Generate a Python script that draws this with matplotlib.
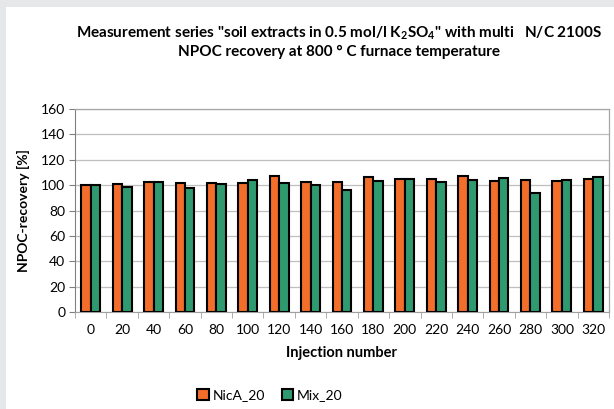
import numpy as np
import matplotlib
matplotlib.use('Agg')
import matplotlib.pyplot as plt
from matplotlib.patches import Rectangle

plt.rcParams['font.family'] = ['Lato', 'DejaVu Sans']
plt.rcParams['mathtext.default'] = 'regular'

injections = ['0', '20', '40', '60', '80', '100', '120', '140', '160',
              '180', '200', '220', '240', '260', '280', '300', '320']
nica_20 = [100, 101, 102.3, 102, 102, 102, 107.3, 102.6, 102.5,
           106.3, 105.2, 104.7, 107.3, 102.9, 104.4, 103.4, 105]
mix_20 = [100, 98.7, 102.3, 97.4, 101, 104.4, 102, 100, 96.3,
          103.4, 105.2, 102.3, 104.4, 106, 94, 104.4, 106.5]

orange = '#F26E2A'
green = '#2F9A6F'

fig = plt.figure(figsize=(6.14, 4.09), dpi=100)
fig.patch.set_facecolor('#e6e7e9')
# white panel, grey strip only on left and top
fig.patches.append(Rectangle((6 / 614, 0), 1, 1 - 7 / 409, transform=fig.transFigure,
                             facecolor='white', edgecolor='none', zorder=-10))

ax = fig.add_axes([75 / 614, 97 / 409, 534 / 614, 203 / 409])

x = np.arange(len(injections))
w = 0.3
ax.bar(x - w / 2, nica_20, w, color=orange, edgecolor='black', linewidth=1.5,
       label='NicA_20', zorder=3)
ax.bar(x + w / 2, mix_20, w, color=green, edgecolor='black', linewidth=1.5,
       label='Mix_20', zorder=3)

ax.set_xlim(-0.5, len(injections) - 0.5)
ax.set_ylim(0, 160)
ax.set_yticks(np.arange(0, 161, 20))
ax.set_xticks(x)
ax.set_xticklabels(injections)
ax.set_xticks(np.arange(-0.5, len(injections), 1), minor=True)
ax.tick_params(axis='x', which='major', length=0, labelsize=10, pad=9)
ax.tick_params(axis='x', which='minor', length=4, color='#a0a0a0')
ax.tick_params(axis='y', length=4, color='#808080', labelsize=10, pad=3)

ax.yaxis.grid(True, color='#bfbfbf', linewidth=0.9, zorder=0)
ax.set_axisbelow(True)
for s in ['top', 'right']:
    ax.spines[s].set_color('#a6a6a6')
    ax.spines[s].set_linewidth(0.9)
ax.spines['left'].set_color('#808080')
ax.spines['bottom'].set_color('#a0a0a0')

ax.set_ylabel('NPOC-recovery [%]', fontsize=10, fontweight='bold', labelpad=8)
ax.set_xlabel('Injection number', fontsize=10.5, fontweight='bold', labelpad=7)

fig.text(0.552, 0.918, 'Measurement series "soil extracts in 0.5 mol/l K$_{2}$SO$_{4}$" with multi   N/C 2100S',
         ha='center', va='center', fontsize=11, fontweight='bold')
fig.text(0.552, 0.873, 'NPOC recovery at 800 \u00b0 C furnace temperature',
         ha='center', va='center', fontsize=11, fontweight='bold')

ax.legend(loc='center', bbox_to_anchor=(270 / 614, 14 / 409), bbox_transform=fig.transFigure,
          ncol=2, frameon=False, fontsize=10, handlelength=0.8, handleheight=0.8,
          handletextpad=0.3, columnspacing=1.2)

fig.savefig('out.png', dpi=100)
